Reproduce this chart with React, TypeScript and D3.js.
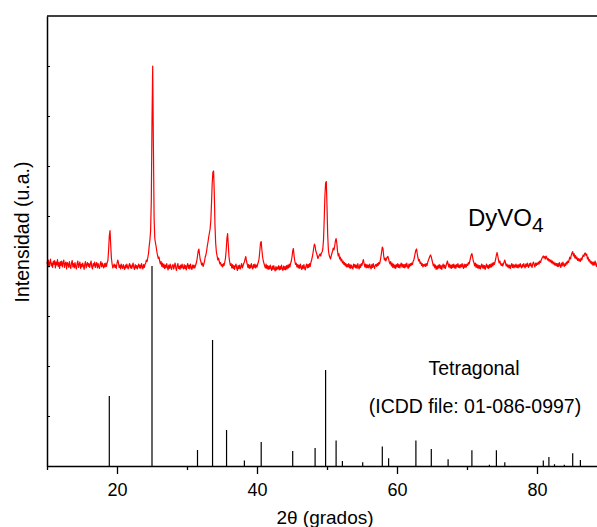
import React, { useEffect, useRef } from "react";
import * as d3 from "d3";

// measured XRD scan (counts), starting at 10 deg, one value every 0.1 deg
const scanStart = 10;
const scanStep = 0.1;
const counts = [
  408, 401, 412, 398, 407, 414, 400, 406, 397, 410, // 10
  403, 411, 396, 408, 402, 413, 399, 407, 395, 409, // 11
  401, 410, 398, 406, 412, 397, 405, 408, 394, 407, // 12
  404, 397, 409, 400, 395, 406, 411, 398, 405, 396, // 13
  407, 399, 394, 405, 410, 397, 403, 408, 395, 404, // 14
  398, 406, 400, 393, 404, 409, 396, 403, 407, 399, // 15
  405, 397, 404, 410, 398, 394, 405, 400, 408, 397, // 16
  403, 407, 396, 405, 399, 395, 404, 409, 398, 406, // 17
  400, 396, 405, 398, 406, 399, 407, 411, 432, 460, // 18
  471, 443, 416, 404, 396, 400, 404, 397, 402, 395, // 19
  405, 412, 407, 397, 402, 394, 404, 398, 395, 403, // 20
  397, 393, 402, 396, 404, 398, 394, 401, 405, 396, // 21
  402, 395, 400, 406, 397, 393, 403, 396, 401, 394, // 22
  400, 404, 396, 402, 395, 405, 399, 394, 403, 397, // 23
  403, 406, 412, 409, 417, 425, 440, 452, 470, 530, // 24
  690, 800, 640, 495, 455, 446, 438, 428, 421, 415, // 25
  418, 410, 404, 409, 399, 406, 397, 404, 395, 402, // 26
  396, 405, 398, 392, 402, 395, 404, 397, 393, 401, // 27
  403, 394, 400, 406, 396, 391, 401, 405, 395, 400, // 28
  393, 402, 396, 404, 397, 394, 403, 395, 401, 392, // 29
  400, 405, 395, 402, 394, 404, 397, 393, 402, 396, // 30
  402, 396, 400, 405, 410, 420, 430, 434, 422, 412, // 31
  408, 402, 406, 399, 404, 409, 418, 422, 430, 440, // 32
  448, 458, 466, 474, 490, 525, 565, 588, 590, 545, // 33
  480, 445, 428, 420, 412, 416, 410, 404, 407, 400, // 34
  403, 398, 405, 401, 408, 416, 432, 455, 465, 442, // 35
  418, 408, 401, 405, 396, 403, 395, 401, 393, 400, // 36
  404, 396, 391, 401, 395, 402, 394, 399, 405, 396, // 37
  400, 405, 408, 414, 419, 410, 404, 397, 403, 395, // 38
  402, 396, 405, 398, 394, 403, 397, 404, 396, 402, // 39
  398, 404, 408, 415, 430, 446, 449, 432, 418, 410, // 40
  405, 400, 396, 404, 395, 401, 393, 400, 394, 402, // 41
  395, 391, 400, 393, 401, 394, 390, 399, 392, 398, // 42
  394, 401, 392, 399, 393, 402, 395, 391, 400, 393, // 43
  399, 392, 401, 394, 402, 396, 404, 398, 405, 410, // 44
  418, 430, 435, 420, 410, 403, 406, 398, 403, 396, // 45
  402, 395, 404, 397, 393, 401, 395, 403, 396, 392, // 46
  400, 404, 396, 403, 397, 405, 399, 407, 412, 418, // 47
  426, 436, 444, 440, 430, 426, 421, 415, 418, 422, // 48
  424, 420, 426, 428, 434, 452, 492, 540, 566, 569, // 49
  520, 462, 432, 422, 418, 414, 420, 425, 430, 436, // 50
  432, 440, 450, 455, 446, 430, 420, 425, 414, 418, // 51
  410, 414, 406, 410, 403, 407, 400, 405, 398, 403, // 52
  398, 405, 396, 403, 395, 402, 397, 394, 404, 398, // 53
  403, 396, 402, 395, 405, 398, 394, 403, 397, 405, // 54
  401, 408, 413, 405, 398, 404, 396, 403, 397, 402, // 55
  396, 404, 398, 394, 403, 397, 405, 399, 395, 402, // 56
  403, 399, 405, 401, 407, 404, 410, 418, 428, 438, // 57
  435, 420, 412, 416, 410, 414, 418, 419, 414, 408, // 58
  404, 409, 400, 406, 397, 404, 396, 402, 395, 403, // 59
  398, 405, 397, 403, 396, 402, 406, 398, 404, 397, // 60
  403, 396, 404, 398, 406, 399, 395, 404, 398, 405, // 61
  401, 406, 403, 409, 412, 418, 426, 432, 434, 424, // 62
  416, 410, 413, 405, 408, 401, 405, 398, 403, 400, // 63
  404, 399, 405, 401, 408, 412, 416, 420, 422, 418, // 64
  412, 406, 400, 404, 396, 402, 393, 400, 394, 402, // 65
  396, 403, 395, 401, 393, 400, 404, 396, 402, 395, // 66
  400, 405, 410, 404, 398, 404, 396, 402, 395, 403, // 67
  397, 404, 396, 402, 395, 403, 398, 405, 397, 402, // 68
  396, 403, 398, 405, 399, 395, 404, 397, 403, 398, // 69
  404, 401, 407, 404, 410, 416, 422, 425, 418, 410, // 70
  406, 400, 406, 397, 404, 396, 402, 395, 401, 394, // 71
  400, 404, 396, 402, 395, 401, 393, 400, 404, 396, // 72
  401, 395, 403, 397, 404, 398, 406, 400, 407, 403, // 73
  408, 414, 422, 427, 420, 412, 406, 410, 404, 401, // 74
  405, 400, 404, 408, 412, 406, 400, 404, 398, 402, // 75
  396, 402, 395, 401, 405, 397, 403, 396, 402, 398, // 76
  404, 397, 402, 396, 403, 398, 405, 399, 396, 403, // 77
  398, 405, 400, 396, 404, 399, 406, 400, 397, 405, // 78
  400, 406, 401, 397, 405, 408, 402, 398, 406, 401, // 79
  406, 403, 408, 404, 410, 407, 412, 415, 418, 420, // 80
  416, 419, 414, 420, 417, 412, 415, 410, 413, 408, // 81
  412, 406, 410, 404, 408, 402, 406, 401, 405, 399, // 82
  405, 399, 407, 401, 397, 406, 400, 408, 402, 399, // 83
  405, 401, 408, 404, 410, 407, 413, 418, 414, 422, // 84
  426, 429, 420, 425, 416, 421, 414, 418, 411, 415, // 85
  410, 414, 409, 416, 412, 418, 422, 419, 425, 426, // 86
  421, 424, 414, 418, 410, 413, 406, 410, 404, 408, // 87
  401, 408, 402, 410, 403, 399, 407, 401, 409, 403, // 88
  405,
];

// ICDD 01-086-0997 reference lines (2theta, relative intensity %)
const refTheta = [
  18.9, 25.0, 31.5, 33.65, 35.65, 38.2, 40.6, 45.1, 48.3, 49.8, 51.3, 52.2,
  55.1, 57.9, 58.8, 62.7, 64.9, 67.3, 70.7, 73.2, 74.2, 75.4, 80.9, 81.7,
  82.5, 83.9, 85.1, 86.2,
];
const refIntensity = [
  35, 100, 8, 63, 18, 2.7, 12, 7.5, 9, 48, 12.7, 2.5, 1.9, 9.7, 3.9, 12.7,
  8.5, 3.4, 7.9, 0.6, 7.9, 1.9, 2.7, 4.5, 0.9, 0.6, 6.4, 3,
];

const xMajor = [20, 40, 60, 80];
const xMinor = [10, 30, 50, 70, 90];
const yTicks = [100, 200, 300, 400, 500, 600, 700, 800];

const FONT = "'Liberation Sans', Arial, Helvetica, sans-serif";

const App = () => {
  const ref = useRef<SVGSVGElement>(null);

  useEffect(() => {
    const width = 597;
    const height = 527;
    const margin = { top: 16, left: 47, bottom: 61 };

    const svg = d3.select(ref.current);
    svg.selectAll("*").remove();

    const x = d3
      .scaleLinear()
      .domain([10, 90])
      .range([margin.left, margin.left + 560]);
    const y = d3
      .scaleLinear()
      .domain([0, 900])
      .range([height - margin.bottom, margin.top]);
    // reference pattern drawn so that 100 % reaches 400 counts
    const yRef = d3.scaleLinear().domain([0, 100]).range([y(0), y(400)]);

    // reference sticks
    svg
      .append("g")
      .selectAll("line")
      .data(refTheta)
      .enter()
      .append("line")
      .attr("x1", (d) => x(d))
      .attr("x2", (d) => x(d))
      .attr("y1", y(0))
      .attr("y2", (d, i) => yRef(refIntensity[i]))
      .attr("stroke", "#000")
      .attr("stroke-width", 1.2);

    // measured pattern
    const line = d3
      .line<number>()
      .x((d, i) => x(scanStart + i * scanStep))
      .y((d) => y(d));
    svg
      .append("path")
      .datum(counts)
      .attr("d", line)
      .attr("fill", "none")
      .attr("stroke", "#ff0000")
      .attr("stroke-width", 1.2)
      .attr("stroke-linejoin", "round");

    // bottom axis
    const gx = svg
      .append("g")
      .attr("transform", `translate(0, ${y(0)})`)
      .call(d3.axisBottom(x).tickValues(xMajor).tickSize(8).tickSizeOuter(0).tickPadding(9));
    gx.selectAll(".tick text")
      .attr("font-family", FONT)
      .attr("font-size", 18)
      .attr("fill", "#000");
    gx.select(".domain").attr("stroke-width", 1.5);
    gx.selectAll(".tick line").attr("stroke-width", 1.3);
    svg
      .append("g")
      .attr("transform", `translate(0, ${y(0)})`)
      .call(d3.axisBottom(x).tickValues(xMinor).tickSize(4).tickFormat(() => ""))
      .call((g) => g.select(".domain").remove())
      .selectAll(".tick line")
      .attr("stroke-width", 1.3);

    // left axis, ticks inward, no labels
    svg
      .append("g")
      .attr("transform", `translate(${margin.left}, 0)`)
      .call(d3.axisLeft(y).tickValues(yTicks).tickSize(-3).tickSizeOuter(0).tickFormat(() => ""))
      .call((g) => g.select(".domain").attr("stroke-width", 1.5));

    // top frame line
    svg
      .append("line")
      .attr("x1", margin.left)
      .attr("x2", width)
      .attr("y1", y(900))
      .attr("y2", y(900))
      .attr("stroke", "#000")
      .attr("stroke-width", 1.5);

    // axis titles
    svg
      .append("text")
      .attr("x", 325)
      .attr("y", 524)
      .attr("text-anchor", "middle")
      .attr("font-family", FONT)
      .attr("font-size", 19)
      .text("2θ (grados)");
    svg
      .append("text")
      .attr("transform", "translate(29, 232) rotate(-90)")
      .attr("text-anchor", "middle")
      .attr("font-family", FONT)
      .attr("font-size", 19.5)
      .text("Intensidad (u.a.)");

    // annotations
    const t = svg
      .append("text")
      .attr("x", 468)
      .attr("y", 226)
      .attr("font-family", FONT)
      .attr("font-size", 24);
    t.append("tspan").text("DyVO");
    t.append("tspan").attr("font-size", 21).attr("dy", 6).text("4");

    svg
      .append("text")
      .attr("x", 474)
      .attr("y", 375)
      .attr("text-anchor", "middle")
      .attr("font-family", FONT)
      .attr("font-size", 19.5)
      .text("Tetragonal");
    svg
      .append("text")
      .attr("x", 475)
      .attr("y", 413)
      .attr("text-anchor", "middle")
      .attr("font-family", FONT)
      .attr("font-size", 19.5)
      .text("(ICDD file: 01-086-0997)");
  }, []);

  return (
    <svg
      ref={ref}
      width={597}
      height={527}
      style={{ position: "absolute", left: 0, top: 0, background: "#fff" }}
    />
  );
};

export default App;
